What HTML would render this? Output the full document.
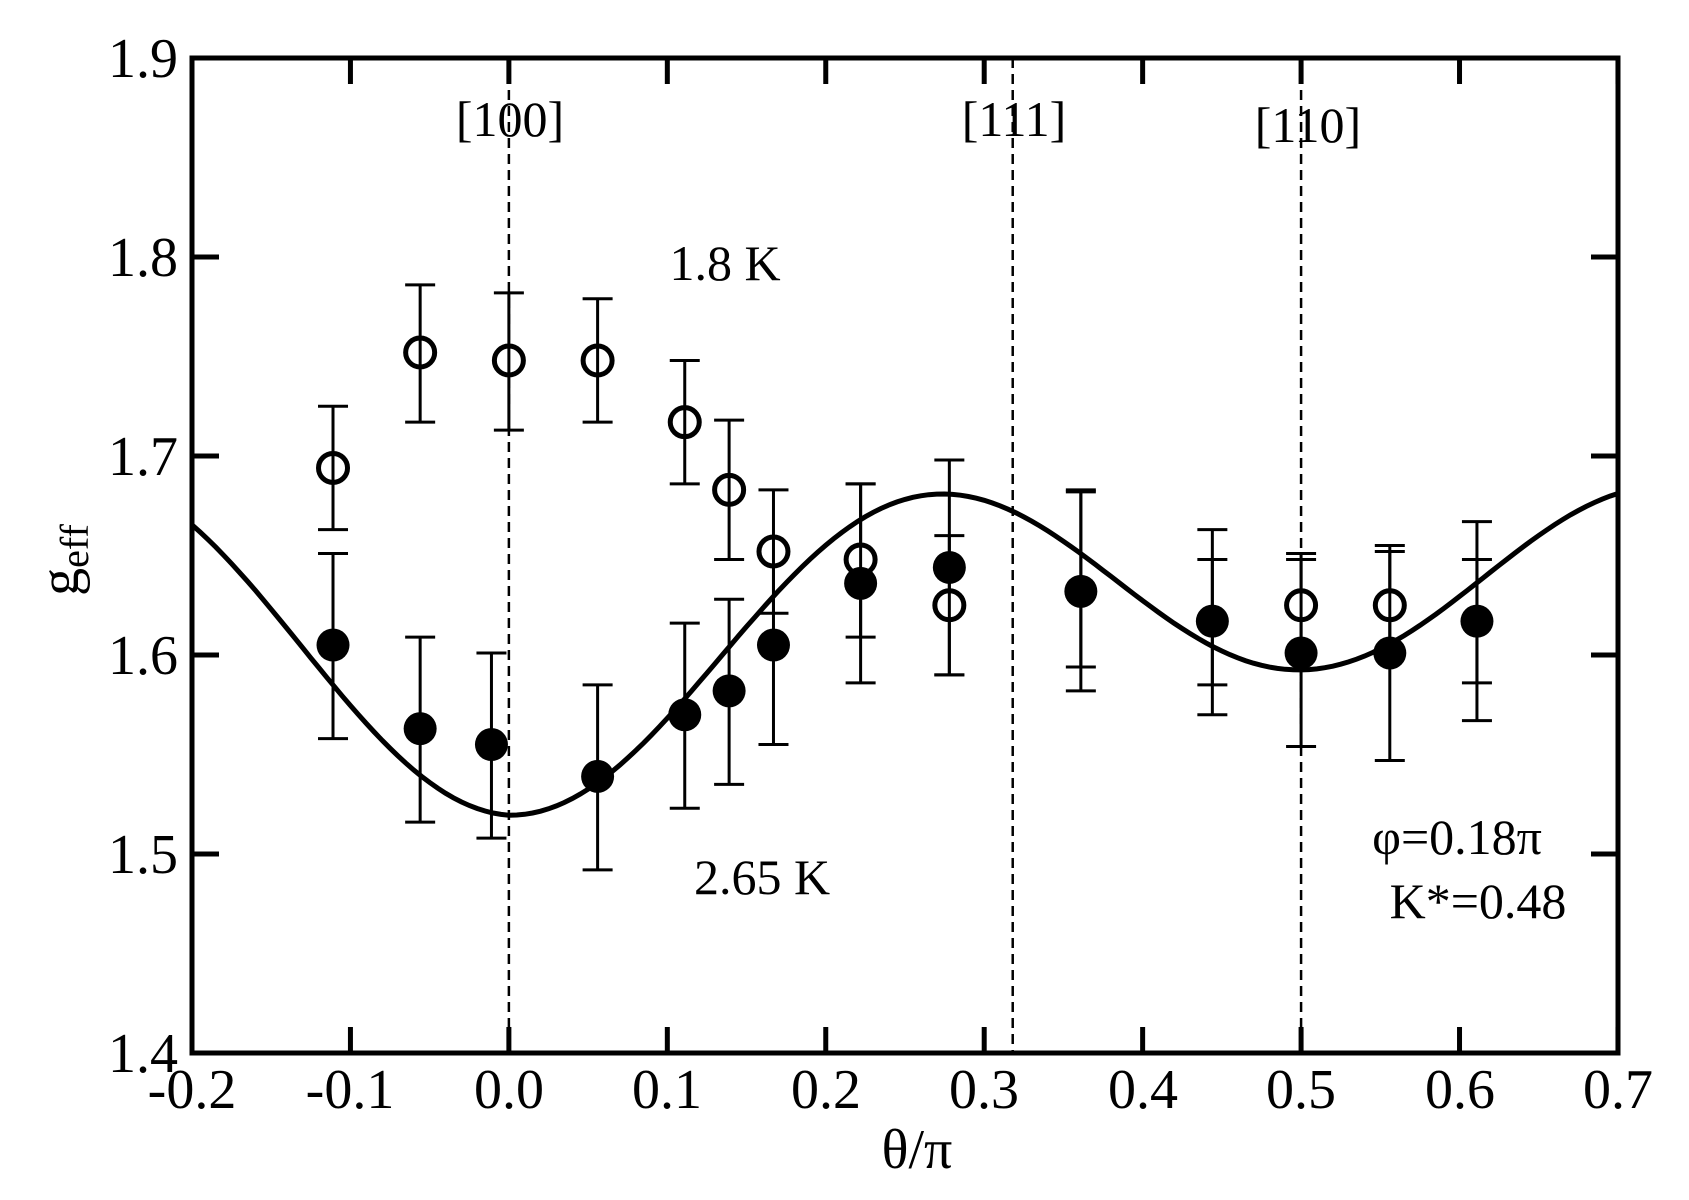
<!DOCTYPE html>
<html><head><meta charset="utf-8"><style>
html,body{margin:0;padding:0;background:#fff;}
svg{display:block;font-family:"Liberation Serif","DejaVu Serif",serif;}
</style></head><body>
<svg id="s" width="1689" height="1200" viewBox="0 0 1689 1200" xmlns="http://www.w3.org/2000/svg">
<rect width="1689" height="1200" fill="#fff"/>
<g id="d"></g>
<rect x="192" y="58" width="1426" height="995" fill="none" stroke="#000" stroke-width="5"/>
<g font-size="56" fill="#000" text-anchor="end">
<text x="178" y="77">1.9</text>
<text x="178" y="276">1.8</text>
<text x="178" y="475">1.7</text>
<text x="178" y="674">1.6</text>
<text x="178" y="873">1.5</text>
<text x="178" y="1072">1.4</text>
</g>
<g font-size="56" fill="#000" text-anchor="middle">
<text x="192" y="1108">-0.2</text>
<text x="350" y="1108">-0.1</text>
<text x="509" y="1108">0.0</text>
<text x="667" y="1108">0.1</text>
<text x="826" y="1108">0.2</text>
<text x="984" y="1108">0.3</text>
<text x="1143" y="1108">0.4</text>
<text x="1301" y="1108">0.5</text>
<text x="1460" y="1108">0.6</text>
<text x="1618" y="1108">0.7</text>
<text x="917" y="1168">θ/π</text>
</g>
<text transform="translate(78,560) rotate(-90)" font-size="56" text-anchor="middle">g<tspan font-size="40" dy="10">eff</tspan></text>
<g font-size="50" fill="#000" text-anchor="middle">
<text x="510" y="136">[100]</text>
<text x="1014" y="136">[111]</text>
<text x="1308" y="142">[110]</text>
<text x="725" y="280">1.8 K</text>
<text x="762" y="894">2.65 K</text>
<text x="1457" y="854">φ=0.18π</text>
<text x="1478" y="918">K*=0.48</text>
</g>
</svg>
<script>
var X=t=>192+(t+0.2)*1584.4, Y=g=>58+(1.9-g)*1990;
var h='';
[0,0.318,0.5].forEach(t=>{h+=`<line x1="${X(t)}" y1="58" x2="${X(t)}" y2="1053" stroke="#000" stroke-width="2.5" stroke-dasharray="10,6"/>`;});
for(var i=0;i<=9;i++){var x=192+i*158.44;h+=`<line x1="${x}" y1="1053" x2="${x}" y2="1027" stroke="#000" stroke-width="5"/><line x1="${x}" y1="58" x2="${x}" y2="84" stroke="#000" stroke-width="5"/>`;}
for(var i=0;i<=5;i++){var y=58+i*199;h+=`<line x1="192" y1="${y}" x2="219" y2="${y}" stroke="#000" stroke-width="5"/><line x1="1618" y1="${y}" x2="1591" y2="${y}" stroke="#000" stroke-width="5"/>`;}
var p='';for(var t=-0.2;t<=0.7001;t+=0.005){var g=1.618-0.0365*Math.cos(2*Math.PI*t)-0.062*Math.cos(4*Math.PI*t)-0.006*Math.sin(2*Math.PI*t)*(t<0?1.5:0.3);p+=(p?'L':'M')+X(t).toFixed(1)+','+Y(g).toFixed(1);}
h+=`<path d="${p}" fill="none" stroke="#000" stroke-width="5"/>`;
function eb(t,lo,hi){var x=X(t);h+=`<line x1="${x}" y1="${Y(lo)}" x2="${x}" y2="${Y(hi)}" stroke="#000" stroke-width="3"/><line x1="${x-15}" y1="${Y(lo)}" x2="${x+15}" y2="${Y(lo)}" stroke="#000" stroke-width="3"/><line x1="${x-15}" y1="${Y(hi)}" x2="${x+15}" y2="${Y(hi)}" stroke="#000" stroke-width="3"/>`;}
var op=[[-0.111,1.694,1.663,1.725],[-0.056,1.752,1.717,1.786],[0,1.748,1.713,1.782],[0.056,1.748,1.717,1.779],[0.111,1.717,1.686,1.748],[0.139,1.683,1.648,1.718],[0.167,1.652,1.621,1.683],[0.222,1.648,1.609,1.686],[0.278,1.625,1.590,1.660],[0.5,1.625,1.601,1.651],[0.556,1.625,1.602,1.655]];
var opx=[[0.361,1.594,1.683],[0.444,1.585,1.648],[0.611,1.586,1.648]];
var fl=[[-0.111,1.605,1.558,1.651],[-0.056,1.563,1.516,1.609],[-0.011,1.555,1.508,1.601],[0.056,1.539,1.492,1.585],[0.111,1.570,1.523,1.616],[0.139,1.582,1.535,1.628],[0.167,1.605,1.555,1.651],[0.222,1.636,1.586,1.686],[0.278,1.644,1.590,1.698],[0.361,1.632,1.582,1.682],[0.444,1.617,1.570,1.663],[0.5,1.601,1.554,1.648],[0.556,1.601,1.547,1.652],[0.611,1.617,1.567,1.667]];
op.forEach(a=>eb(a[0],a[2],a[3]));opx.forEach(a=>eb(a[0],a[1],a[2]));fl.forEach(a=>eb(a[0],a[2],a[3]));
op.forEach(a=>{h+=`<circle cx="${X(a[0])}" cy="${Y(a[1])}" r="14.5" fill="#fff" stroke="#000" stroke-width="5"/><line x1="${X(a[0])}" y1="${Y(a[1])-14}" x2="${X(a[0])}" y2="${Y(a[1])+14}" stroke="#000" stroke-width="3"/>`;});
fl.forEach(a=>{h+=`<circle cx="${X(a[0])}" cy="${Y(a[1])}" r="16.5" fill="#000"/>`;});
document.getElementById('d').innerHTML=h;
</script>
</body></html>
